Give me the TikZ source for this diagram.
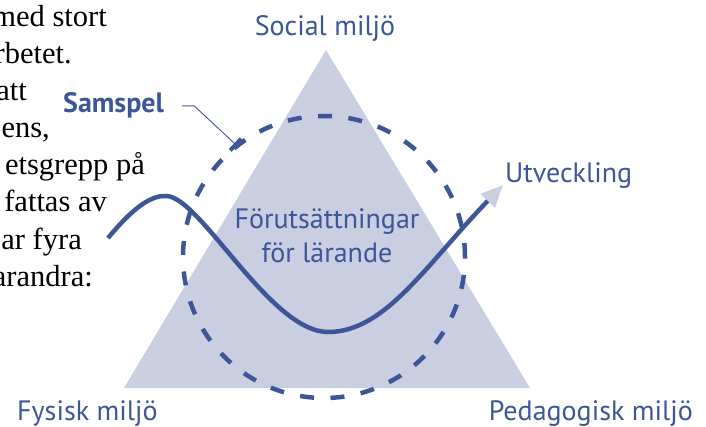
\documentclass[tikz,border=0pt]{standalone}
\usepackage{fontspec}
\setmainfont{Liberation Serif}
\newfontfamily\miljofont{PT Sans}
\usetikzlibrary{arrows.meta}
\definecolor{ink}{RGB}{60,86,152}
\definecolor{lilac}{RGB}{201,207,225}

\begin{document}
\begin{tikzpicture}[
    x = 1pt, y = 1pt,
    lbl/.style={
      text = ink,
      inner sep = 0pt,
      font = \miljofont\fontsize{28}{34}\selectfont,
    },
    prose/.style={
      inner sep = 0pt,
      anchor = base east,
      font = \fontsize{30.5}{37}\selectfont,
    },
    ring/.style={
      circle,
      draw = ink,
      line width = 4.5pt,
      dash pattern = on 14pt off 16.5pt,
      minimum size = 282pt,
      inner sep = 0pt,
      outer sep = 0pt,
    },
    wave/.style={draw = ink, line width = 4.5pt},
    leader/.style={draw = ink, line width = 0.9pt},
  ]
  \useasboundingbox (0,0) rectangle (706,426);
  \clip (0,0) rectangle (706,426);

  \foreach \n/\x/\y/\t in {1/107/399/{med stort}, 2/72/362/{rbetet.},
      3/27/325/{att}, 4/50/288/{ens,}, 5/145/251/{etsgrepp på},
      6/107/214/{fattas av}, 7/82/177/{ar fyra}, 8/93/140/{arandra:}}
    \node[prose] (prose\n) at (\x,\y) {\t};

  \coordinate (apex) at (326,376);
  \coordinate (baseL) at (124,38);
  \coordinate (baseR) at (530,38);
  \fill[lilac] (apex) -- (baseL) -- (baseR) -- cycle;

  \node[ring] (samspelring) at (324,169) {};

  \coordinate (w0) at (108,188);
  \coordinate (w1) at (166,230);
  \coordinate (w2) at (328,94);
  \coordinate (tip) at (503,241);
  \draw[wave, -{Triangle[length=22pt, width=19pt, color=lilac, fill=lilac]}]
    (w0) .. controls (128,212) and (148,231) .. (w1)
    .. controls (200,230) and (270,94) .. (w2)
    .. controls (385,94) and (425,160) .. (tip);

  \node[lbl, anchor=base] (social) at (325,390) {Social miljö};
  \node[lbl, anchor=base west] (fysisk) at (17,6) {Fysisk miljö};
  \node[lbl, anchor=base east] (pedagogisk) at (693,6) {Pedagogisk miljö};
  \node[lbl, anchor=base west] (utveckling) at (505,243) {Utveckling};
  \node[lbl, align=center, anchor=base] (larande) at (327,164) {Förutsättningar\\för lärande};
  \node[lbl, anchor=base west, font=\miljofont\bfseries\fontsize{28}{34}\selectfont] (samspel) at (63,313) {Samspel};

  \draw[leader, -{Bar[width=16pt, line width=4pt]}]
    ([xshift=18pt]samspel.east) -- ++(12,0) -- (samspelring.128);
\end{tikzpicture}
\end{document}
